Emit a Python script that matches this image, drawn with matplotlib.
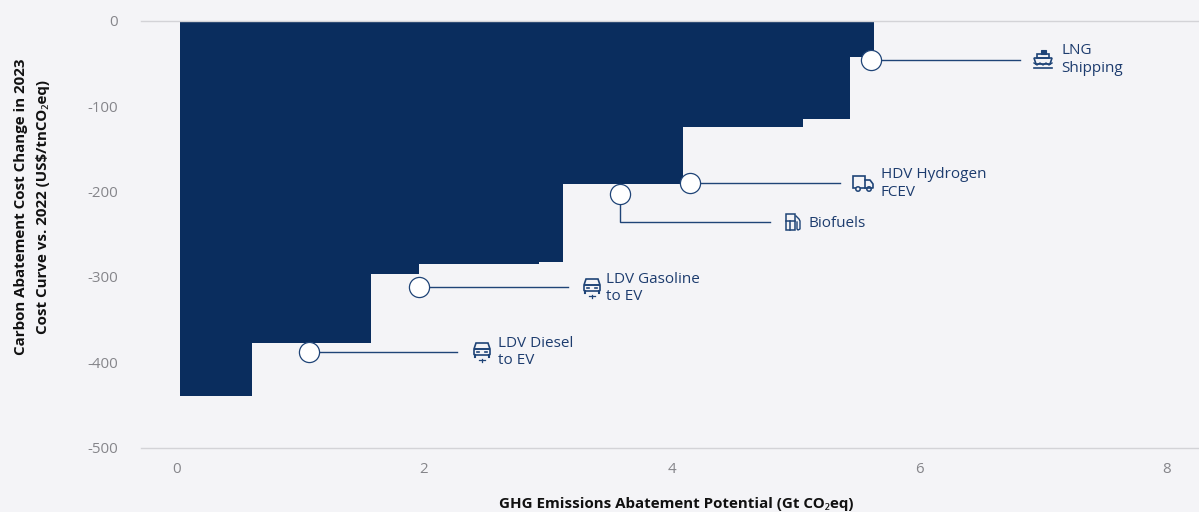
import numpy as np
import matplotlib
matplotlib.use('Agg')
import matplotlib.pyplot as plt
from matplotlib.patches import Rectangle, Circle, Polygon, FancyBboxPatch

plt.rcParams['font.family'] = ['Open Sans', 'Noto Sans', 'DejaVu Sans']
plt.rcParams['axes.unicode_minus'] = False

bar_edges = [0.028, 0.61, 1.572, 1.96, 2.929, 3.123, 4.093, 5.062, 5.442, 5.636]
bar_values = [-440, -377, -297, -285, -282, -191, -124, -115, -43]

callout_names = ['LDV Diesel\nto EV', 'LDV Gasoline\nto EV', 'Biofuels', 'HDV Hydrogen\nFCEV', 'LNG\nShipping']
callout_x = [1.07, 1.956, 3.58, 4.146, 5.615]
callout_y = [-388, -312, -203, -190, -46]
line_end_x = [2.27, 3.16, 4.795, 5.36, 6.82]
line_end_y = [-388, -312, -236, -190, -46]
label_x = [2.595, 3.47, 5.105, 5.69, 7.15]
label_y = [-388, -313, -237, -191, -45]

x_ticks = [0, 2, 4, 6, 8]
y_ticks = [0, -100, -200, -300, -400, -500]

bg = '#f4f4f7'
navy = '#0a2d5e'
line_col = '#1f4477'
text_col = '#1d3c6e'
W, H = 1199, 512

fig = plt.figure(figsize=(W / 100, H / 100), dpi=100, facecolor=bg)
ax = fig.add_axes([141 / W, 1 - 447.7 / H, (W - 141) / W, 427 / H], facecolor=bg)

widths = np.diff(bar_edges)
ax.bar(bar_edges[:-1], bar_values, width=widths, align='edge', color=navy, linewidth=0, zorder=2)

for i in range(len(callout_x)):
    ax.plot([callout_x[i], callout_x[i], line_end_x[i]], [callout_y[i], line_end_y[i], line_end_y[i]],
            color=line_col, linewidth=1.0, zorder=3, solid_joinstyle='miter')
    ax.plot(callout_x[i], callout_y[i], 'o', ms=14.5, mfc='white', mec=line_col, mew=0.9, zorder=4)
    ax.text(label_x[i], label_y[i], callout_names[i], fontsize=11, color=text_col,
            va='center', ha='left', linespacing=1.25, zorder=5)

ax.set_xlim((141 - 176.5) / 123.75, (W - 176.5) / 123.75)
ax.set_ylim(-500, 0)
ax.set_xticks(x_ticks)
ax.set_yticks(y_ticks)
ax.tick_params(axis='both', length=0, labelcolor='#85858a', labelsize=10.8)
ax.tick_params(axis='y', pad=16.5)
ax.tick_params(axis='x', pad=10)
for s in ['left', 'right']:
    ax.spines[s].set_visible(False)
for s in ['top', 'bottom']:
    ax.spines[s].set_color('#d3d3d7')
    ax.spines[s].set_linewidth(1.0)
    ax.spines[s].set_zorder(3)

fig.text(676 / W, 1 - 504 / H, 'GHG Emissions Abatement Potential (Gt CO₂eq)', fontsize=10.9,
         fontweight='bold', color='#111111', ha='center', va='center')
fig.text(32 / W, 1 - 207 / H, 'Carbon Abatement Cost Change in 2023\nCost Curve vs. 2022 (US$/tnCO₂eq)',
         fontsize=10.9, fontweight='bold', color='#111111', ha='center', va='center',
         rotation=90, linespacing=1.7, multialignment='center')

# icons, drawn in pixels on a see-through layer
ov = fig.add_axes([0, 0, 1, 1], facecolor='none')
ov.set_xlim(0, W)
ov.set_ylim(H, 0)
ov.axis('off')

def car(cx, cy):
    ov.add_patch(Polygon([[cx - 8, cy], [cx - 6, cy - 6], [cx + 6, cy - 6], [cx + 8, cy]], closed=True,
                         fc='none', ec=line_col, lw=1.2))
    ov.add_patch(FancyBboxPatch((cx - 8, cy), 16, 6, boxstyle='round,pad=0,rounding_size=1',
                                fc='none', ec=line_col, lw=1.2))
    ov.plot([cx - 7, cx - 7], [cy + 6, cy + 8], color=line_col, lw=1.5)
    ov.plot([cx + 7, cx + 7], [cy + 6, cy + 8], color=line_col, lw=1.5)
    ov.plot([cx - 5, cx - 3], [cy + 3, cy + 3], color=line_col, lw=1.2)
    ov.plot([cx + 3, cx + 5], [cy + 3, cy + 3], color=line_col, lw=1.2)
    ov.plot([cx - 3, cx + 3], [cy + 11, cy + 11], color=line_col, lw=0.9)
    ov.plot([cx, cx], [cy + 9.5, cy + 12.5], color=line_col, lw=0.9)

def pump(cx, cy):
    ov.add_patch(Rectangle((cx - 7, cy - 8), 9, 16, fc='none', ec=line_col, lw=1.1))
    ov.plot([cx - 7, cx + 2], [cy - 1, cy - 1], color=line_col, lw=1.1)
    ov.plot([cx - 3, cx - 3], [cy - 1, cy + 8], color=line_col, lw=1.1)
    ov.plot([cx + 3, cx + 6, cx + 7, cx + 7, cx + 5, cx + 4, cx + 4], [cy - 6, cy - 3, cy - 1, cy + 7, cy + 8, cy + 7, cy],
            color=line_col, lw=1.0)

def truck(cx, cy):
    ov.add_patch(Rectangle((cx - 10, cy - 7), 12, 12, fc='none', ec=line_col, lw=1.2))
    ov.plot([cx + 2, cx + 7, cx + 10, cx + 10, cx + 2], [cy - 3, cy - 3, cy + 1, cy + 5, cy + 5], color=line_col, lw=1.2)
    ov.add_patch(Circle((cx - 5, cy + 6), 2.2, fc=bg, ec=line_col, lw=1.1))
    ov.add_patch(Circle((cx + 6, cy + 6), 2.2, fc=bg, ec=line_col, lw=1.1))

def ship(cx, cy):
    ov.add_patch(Polygon([[cx - 9, cy - 1], [cx + 9, cy - 1], [cx + 7, cy + 5], [cx - 7, cy + 5]], closed=True,
                         fc='none', ec=line_col, lw=1.2))
    ov.add_patch(Rectangle((cx - 6, cy - 5), 12, 4, fc='none', ec=line_col, lw=1.2))
    ov.add_patch(Rectangle((cx - 2.5, cy - 9), 5, 4, fc=line_col, ec=line_col, lw=0.8))
    ov.plot([cx - 9, cx - 6, cx - 3, cx, cx + 3, cx + 6, cx + 9], [cy + 4, cy + 6, cy + 4, cy + 6, cy + 4, cy + 6, cy + 4],
            color=line_col, lw=1.0)
    ov.plot([cx - 9, cx + 9], [cy + 9, cy + 9], color=line_col, lw=1.2)

car(482, 349)
car(592, 285)
pump(793, 222)
truck(863, 183)
ship(1043, 59)

fig.savefig('out.png', dpi=100, facecolor=bg)
